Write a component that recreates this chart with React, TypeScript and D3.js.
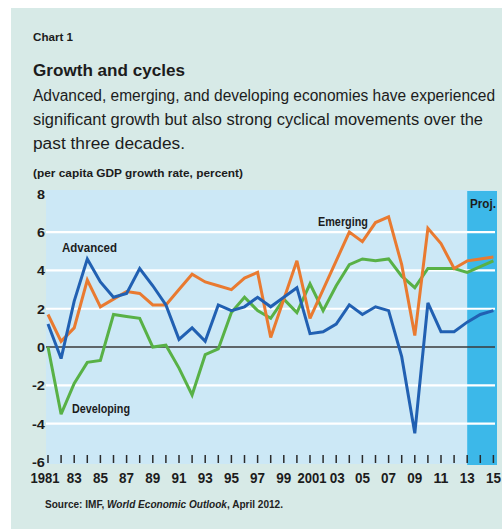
import React from "react";
import * as d3 from "d3";

const years: number[] = d3.range(1981, 2016);
const advanced: number[] = [1.2, -0.6, 2.4, 4.6, 3.4, 2.6, 2.8, 4.1, 3.2, 2.2, 0.4, 1.0, 0.3, 2.2, 1.9, 2.1, 2.6, 2.1, 2.6, 3.1, 0.7, 0.8, 1.2, 2.2, 1.7, 2.1, 1.9, -0.5, -4.5, 2.3, 0.8, 0.8, 1.3, 1.7, 1.9];
const emerging: number[] = [1.7, 0.3, 1.0, 3.5, 2.1, 2.5, 2.9, 2.8, 2.2, 2.2, 3.0, 3.8, 3.4, 3.2, 3.0, 3.6, 3.9, 0.5, 2.5, 4.5, 1.5, 3.0, 4.5, 6.0, 5.5, 6.5, 6.8, 4.3, 0.6, 6.2, 5.4, 4.1, 4.5, 4.6, 4.7];
const developing: number[] = [0.0, -3.5, -1.9, -0.8, -0.7, 1.7, 1.6, 1.5, 0.0, 0.1, -1.1, -2.5, -0.4, -0.1, 1.8, 2.6, 1.9, 1.5, 2.5, 1.8, 3.3, 1.9, 3.2, 4.3, 4.6, 4.5, 4.6, 3.7, 3.1, 4.1, 4.1, 4.1, 3.9, 4.2, 4.5];
const yTicks: number[] = [8, 6, 4, 2, 0, -2, -4, -6];
const gridValues: number[] = [6, 4, 2, -2, -4];
const xLabelYears: number[] = d3.range(1981, 2016, 2);
const projStart = 2013;

const FONT = "'Liberation Sans', Arial, sans-serif";

type TProps = {
  x: number;
  y: number;
  w?: number;
  size: number;
  bold?: boolean;
  anchor?: "start" | "middle" | "end";
  dy?: string;
  children: React.ReactNode;
};

function T({ x, y, w, size, bold, anchor = "start", dy, children }: TProps) {
  return (
    <text
      x={x}
      y={y}
      dy={dy}
      fontSize={size}
      fontWeight={bold ? "bold" : "normal"}
      textAnchor={anchor}
      fill="#1c1c1c"
      textLength={w}
      lengthAdjust={w ? "spacingAndGlyphs" : undefined}
    >
      {children}
    </text>
  );
}

export default function App() {
  const x = d3.scaleLinear().domain([1981, 2015]).range([48, 493.4]);
  const y = d3.scaleLinear().domain([-6, 8]).range([462, 193.8]);
  const line = d3
    .line<number>()
    .x((_, i) => x(years[i]))
    .y((d) => y(d));

  const plotL = 46, plotR = 495, plotT = 190, plotB = 464;
  const series = [
    { data: developing, color: "#58b146" },
    { data: emerging, color: "#e97a30" },
    { data: advanced, color: "#2160b2" },
  ];
  const fmtYear = (yr: number) => (yr === 1981 || yr === 2001 ? String(yr) : String(yr).slice(2));
  const labelX = (yr: number) => (yr === 1981 ? x(yr) - 3 : yr === 2001 ? x(yr) + 2 : yr === 2003 ? x(yr) + 1 : x(yr));

  return (
    <svg width={502} height={529} style={{ position: "absolute", left: 0, top: 0 }} fontFamily={FONT}>
      <rect x={0} y={0} width={502} height={529} fill="#ffffff" />
      <rect x={11} y={8} width={491} height={521} fill="#d7eae7" />
      <T x={33} y={41} w={40} size={11} bold>Chart 1</T>
      <T x={33} y={76} w={152} size={17} bold>Growth and cycles</T>
      <T x={33} y={101} w={462} size={16}>Advanced, emerging, and developing economies have experienced</T>
      <T x={33} y={125} w={450} size={16}>significant growth but also strong cyclical movements over the</T>
      <T x={33} y={149} w={152} size={16}>past three decades.</T>
      <T x={33} y={177} w={210} size={11.5} bold>(per capita GDP growth rate, percent)</T>

      <rect x={plotL} y={plotT} width={plotR - plotL} height={plotB - plotT} fill="#cce8f6" />
      <rect x={x(projStart)} y={plotT + 1} width={497 - x(projStart)} height={plotB - plotT} fill="#3cb8e9" />

      {gridValues.map((v) => (
        <line key={v} x1={plotL} x2={plotR} y1={y(v)} y2={y(v)} stroke="#ffffff" strokeWidth={2.2} />
      ))}
      <line x1={plotL} x2={plotR} y1={y(0)} y2={y(0)} stroke="#3a3a3a" strokeWidth={1.5} />

      {years.map((yr) => (
        <line key={yr} x1={x(yr)} x2={x(yr)} y1={y(-6) - 7} y2={y(-6) + 1} stroke="#2a2a2a" strokeWidth={1.5} />
      ))}

      {series.map((s, i) => (
        <path key={i} d={line(s.data) || ""} fill="none" stroke={s.color} strokeWidth={3} strokeLinejoin="miter" strokeMiterlimit={3} />
      ))}

      {yTicks.map((v) => (
        <T key={v} x={45} y={y(v)} dy="0.36em" anchor="end" size={13.5} bold w={v < 0 ? 13 : 8}>
          {v}
        </T>
      ))}
      {xLabelYears.map((yr) => (
        <T
          key={yr}
          x={labelX(yr)}
          y={483}
          anchor="middle"
          size={15}
          bold
          w={yr === 1981 || yr === 2001 ? 29 : 15}
        >
          {fmtYear(yr)}
        </T>
      ))}

      <T x={62} y={252} w={55} size={12.5} bold>Advanced</T>
      <T x={318} y={226} w={50} size={12.5} bold>Emerging</T>
      <T x={72} y={413} w={58} size={12.5} bold>Developing</T>
      <T x={470} y={208} w={26} size={12} bold>Proj.</T>

      <text x={45} y={508} fontSize={10.5} fontWeight="bold" fill="#222" textLength={238} lengthAdjust="spacingAndGlyphs">
        Source: IMF, <tspan fontStyle="italic">World Economic Outlook</tspan>, April 2012.
      </text>
    </svg>
  );
}
